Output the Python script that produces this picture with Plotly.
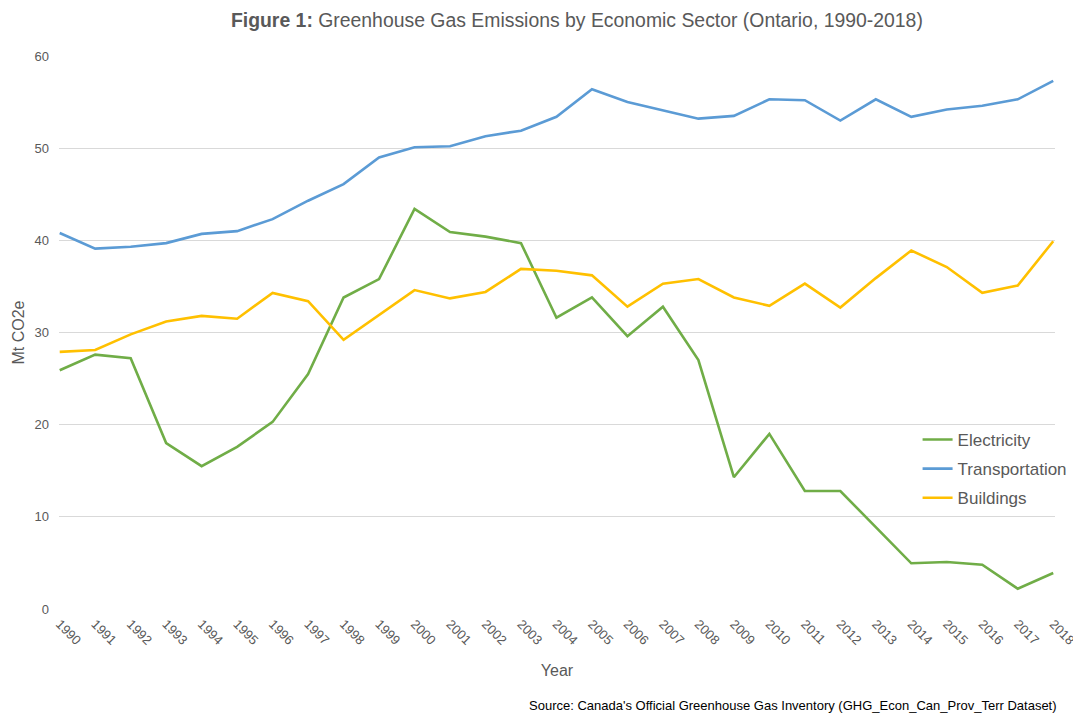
import plotly.graph_objects as go

years = list(range(1990, 2019))
electricity = [25.9, 27.6, 27.2, 18.0, 15.5, 17.6, 20.3, 25.5, 33.8, 35.8,
               43.4, 40.9, 40.4, 39.7, 31.6, 33.8, 29.6, 32.8, 27.0, 14.3,
               19.0, 12.8, 12.8, 8.9, 4.96, 5.1, 4.8, 2.2, 3.9]
transportation = [40.8, 39.1, 39.3, 39.7, 40.7, 41.0, 42.3, 44.3, 46.1, 49.0,
                  50.1, 50.2, 51.3, 51.9, 53.4, 56.4, 55.0, 54.1, 53.2, 53.5,
                  55.3, 55.2, 53.0, 55.3, 53.4, 54.2, 54.6, 55.3, 57.3]
buildings = [27.9, 28.1, 29.8, 31.2, 31.8, 31.5, 34.3, 33.4, 29.2, 31.9,
             34.6, 33.7, 34.4, 36.9, 36.7, 36.2, 32.8, 35.3, 35.8, 33.8,
             32.9, 35.3, 32.7, 35.9, 38.9, 37.1, 34.3, 35.1, 39.9]

series = [
    ("Electricity", electricity, "#70AD47"),
    ("Transportation", transportation, "#5B9BD5"),
    ("Buildings", buildings, "#FFC000"),
]

FONT = "Liberation Sans, Arial, sans-serif"
GRAY = "#595959"

fig = go.Figure()
for name, vals, color in series:
    fig.add_trace(go.Scatter(
        x=[str(y) for y in years], y=vals, name=name, mode="lines",
        line=dict(color=color, width=2.6), legendgroup=name,
    ))

fig.update_layout(
    width=1073, height=707,
    margin=dict(l=51, r=26, t=48, b=106, autoexpand=False),
    plot_bgcolor="white", paper_bgcolor="white",
    font=dict(family=FONT, color=GRAY, size=13),
    title=dict(
        text="<b>Figure 1:</b> Greenhouse Gas Emissions by Economic Sector (Ontario, 1990-2018)",
        x=0.52, xanchor="center", xref="paper", y=0.983, yanchor="middle",
        font=dict(family=FONT, size=19.4, color=GRAY),
    ),
    xaxis=dict(
        type="category", tickangle=45, showgrid=False, zeroline=False,
        showline=False, ticks="", tickfont=dict(size=13, color=GRAY),
        ticklabelstandoff=4, automargin=False,
        title=dict(text="Year", font=dict(size=16, color=GRAY), standoff=18),
        range=[-0.02, 28.05],
    ),
    yaxis=dict(
        range=[0, 60], dtick=10, showgrid=True, gridcolor="#D9D9D9", gridwidth=1.2,
        zeroline=False, showline=False, ticks="", automargin=False,
        tickfont=dict(size=13, color=GRAY), ticklabelstandoff=9,
        title=dict(text="Mt CO2e", font=dict(size=16, color=GRAY), standoff=5),
    ),
    legend=dict(
        xref="container", yref="container",
        x=0.8477, y=0.4144, xanchor="left", yanchor="top",
        bgcolor="rgba(0,0,0,0)", font=dict(size=17, color=GRAY),
        itemwidth=30, tracegroupgap=4,
    ),
    showlegend=True,
)

fig.add_annotation(
    text="Source: Canada's Official Greenhouse Gas Inventory (GHG_Econ_Can_Prov_Terr Dataset)",
    xref="paper", yref="paper", x=1.004, y=-0.175, xanchor="right", yanchor="middle",
    showarrow=False, font=dict(family=FONT, size=13, color="#000000"),
)

fig.write_html("out.html")
